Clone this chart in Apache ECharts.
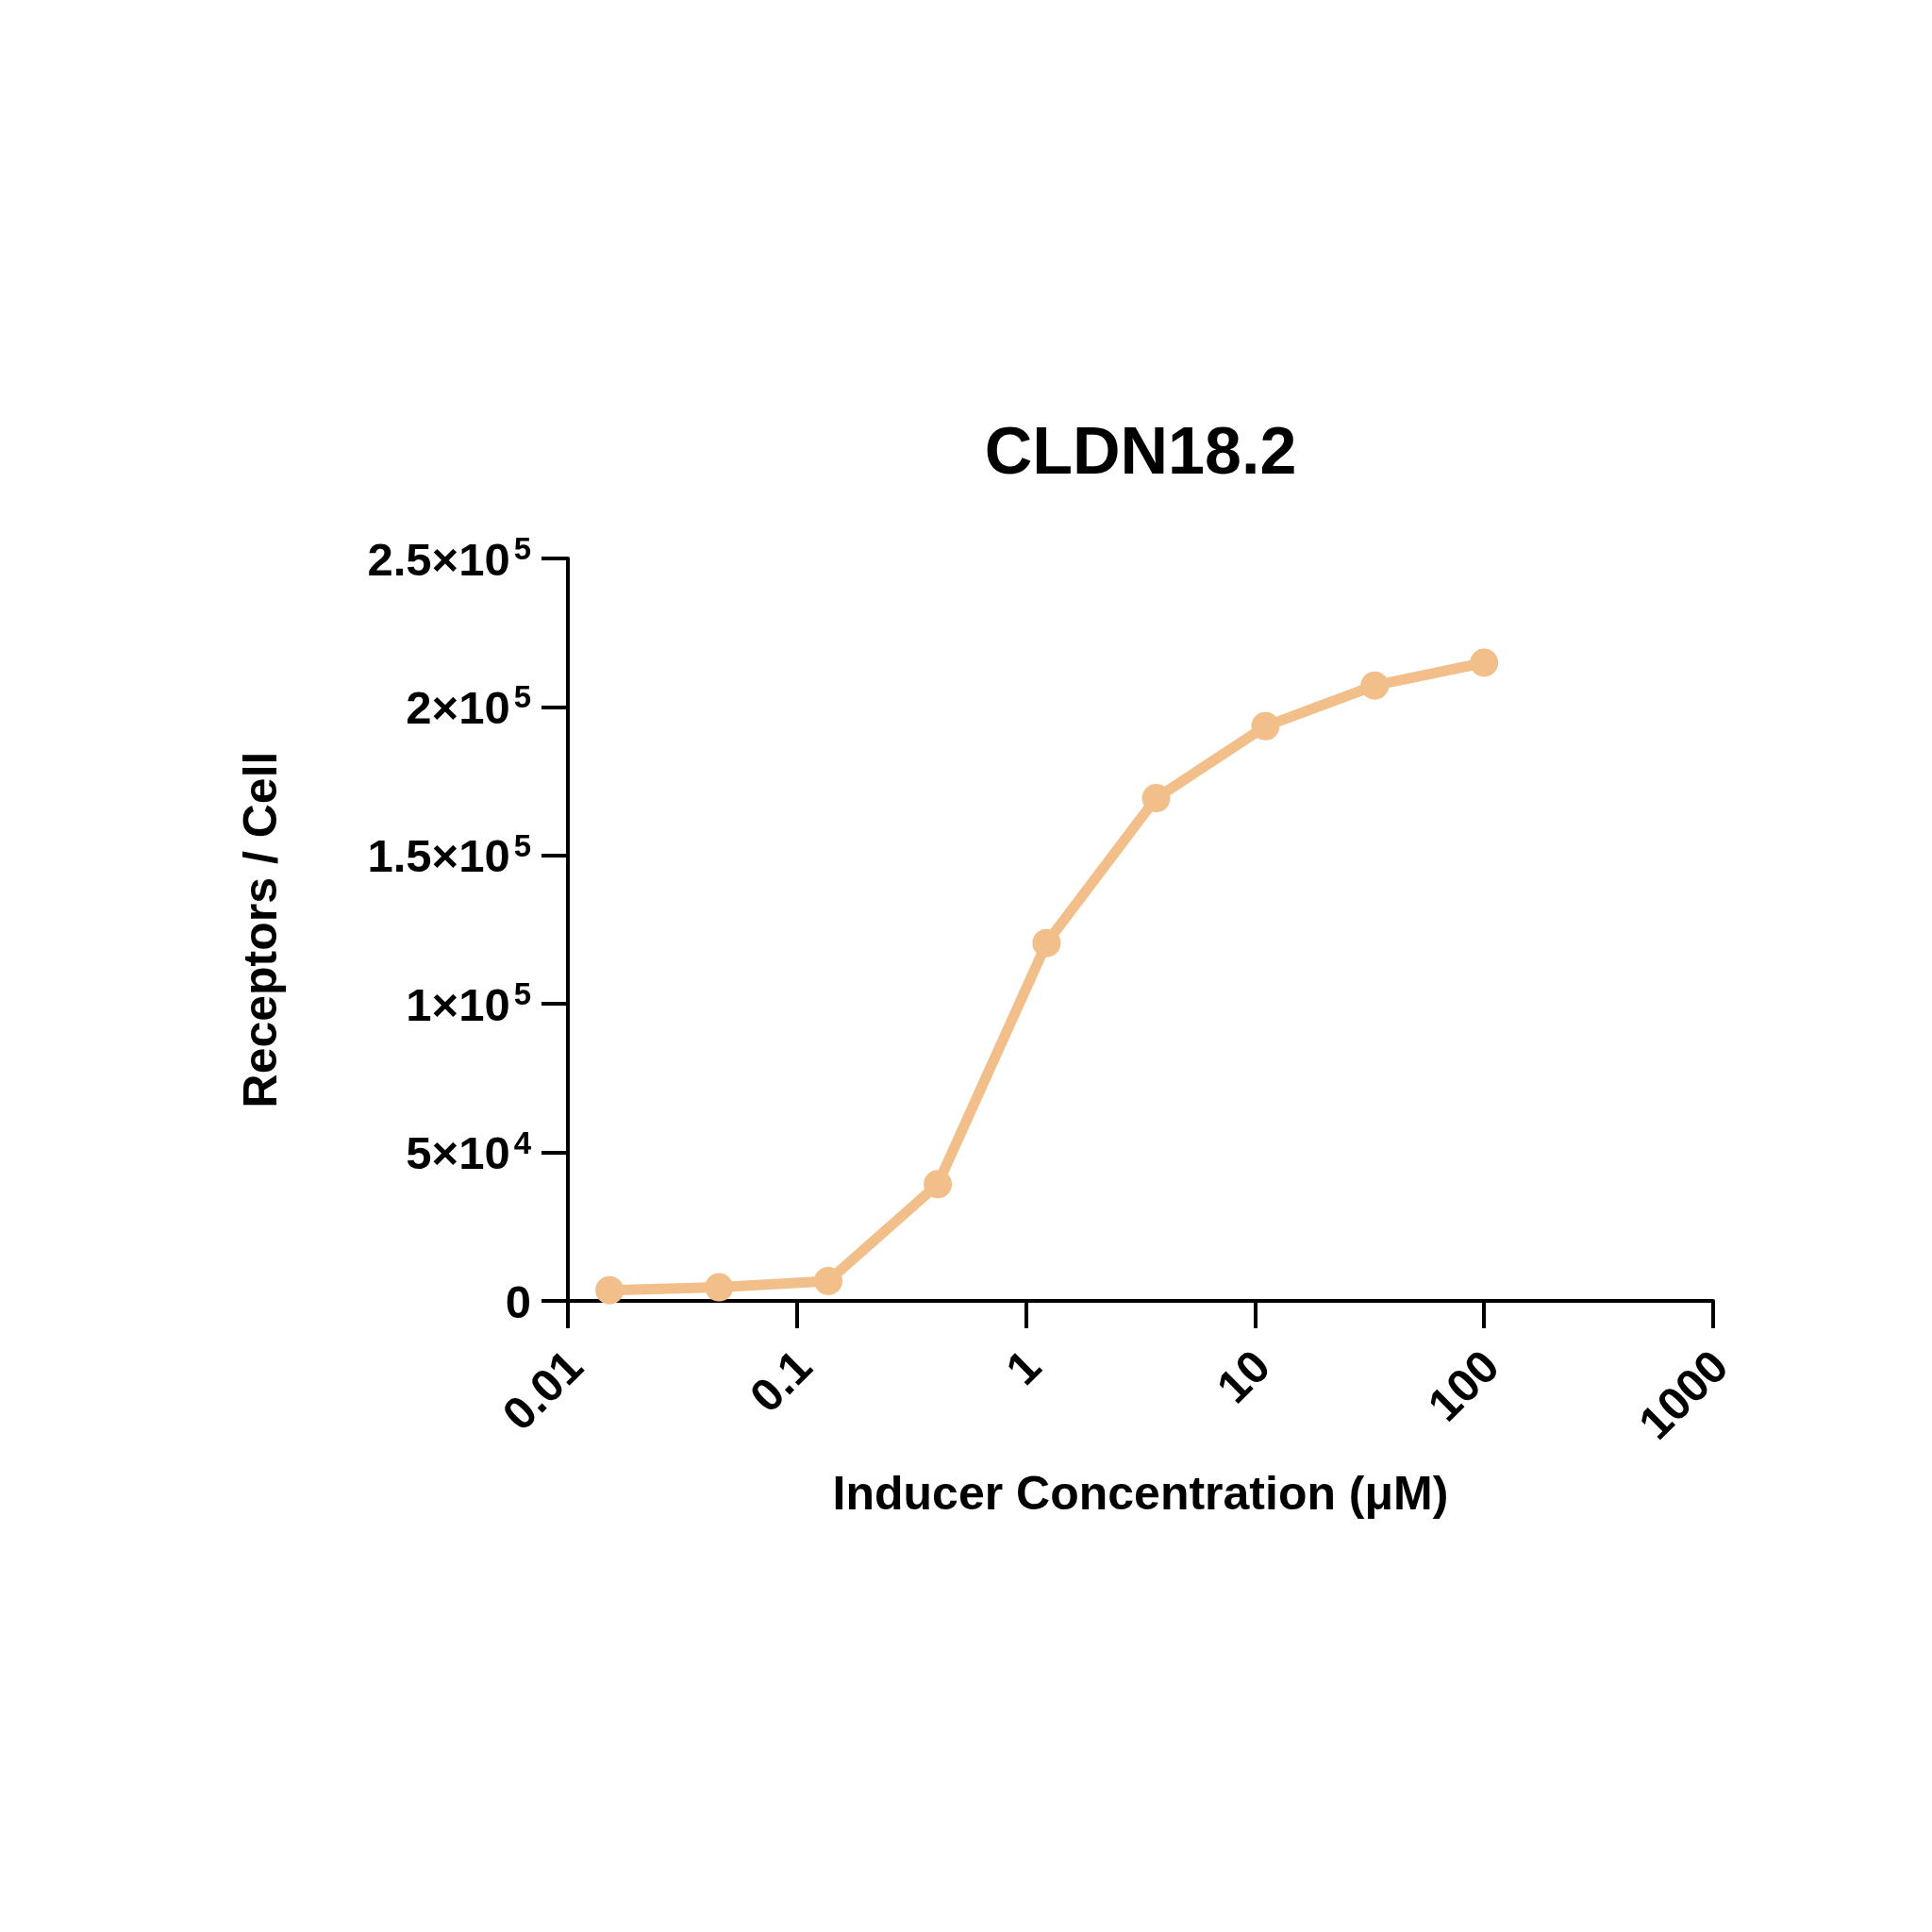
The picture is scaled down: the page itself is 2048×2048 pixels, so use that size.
<!DOCTYPE html>
<html>
<head>
<meta charset="utf-8">
<script src="https://cdn.jsdelivr.net/npm/echarts@6/dist/echarts.min.js"></script>
<style>
html,body{margin:0;padding:0;background:#fff;}
#chart{width:2048px;height:2048px;}
</style>
</head>
<body>
<div id="chart"></div>
<script>
// ---- data ----
var chartTitle = 'CLDN18.2';
var xAxisName = 'Inducer Concentration (μM)';
var yAxisName = 'Receptors / Cell';
var concentrations = [0.0152, 0.0457, 0.137, 0.412, 1.23, 3.70, 11.1, 33.3, 100];
var receptors = [3600, 4600, 6700, 39300, 120500, 169300, 193500, 207200, 214900];
var xTickValues = [0.01, 0.1, 1, 10, 100, 1000];
var xTickLabels = ['0.01', '0.1', '1', '10', '100', '1000'];
var yTickValues = [0, 50000, 100000, 150000, 200000, 250000];
var yTickLabels = ['0', '5×10^4', '1×10^5', '1.5×10^5', '2×10^5', '2.5×10^5'];

var FONT = '"Liberation Sans", Arial, Helvetica, sans-serif';
var lineColor = '#F2BE8A';

var seriesData = concentrations.map(function (c, i) { return [c, receptors[i]]; });

function yFormatter(v) {
  var idx = -1;
  for (var i = 0; i < yTickValues.length; i++) {
    if (Math.abs(yTickValues[i] - v) < 1) { idx = i; break; }
  }
  if (idx < 0) return '';
  var parts = yTickLabels[idx].split('^');
  if (parts.length === 1) return '{b|' + parts[0] + '}';
  return '{b|' + parts[0] + '}{s|' + parts[1] + '}';
}
function xFormatter(v) {
  var e = Math.round(Math.log10(v));
  for (var i = 0; i < xTickValues.length; i++) {
    if (Math.round(Math.log10(xTickValues[i])) === e) return xTickLabels[i];
  }
  return '';
}

var chart = echarts.init(document.getElementById('chart'), null, {renderer: 'canvas'});
chart.setOption({
  animation: false,
  backgroundColor: '#ffffff',
  title: {
    text: chartTitle,
    left: 1209,
    top: 448,
    padding: 0,
    textAlign: 'center',
    textStyle: {fontFamily: FONT, fontWeight: 'bold', fontSize: 70, color: '#000'}
  },
  grid: {left: 602, right: 232, top: 592, bottom: 669, containLabel: false},
  xAxis: {
    type: 'log',
    logBase: 10,
    min: 0.01,
    max: 1000,
    name: xAxisName,
    nameLocation: 'middle',
    nameGap: 182,
    nameTextStyle: {fontFamily: FONT, fontWeight: 'bold', fontSize: 50, color: '#000'},
    axisLine: {show: true, onZero: false, lineStyle: {color: '#000', width: 4}},
    axisTick: {show: true, length: 29, lineStyle: {color: '#000', width: 4}},
    minorTick: {show: false},
    splitLine: {show: false},
    axisLabel: {
      rotate: 45,
      margin: 54,
      verticalAlign: 'top',
      lineHeight: 26,
      fontFamily: FONT, fontWeight: 'bold', fontSize: 49, color: '#000',
      formatter: xFormatter
    }
  },
  yAxis: {
    type: 'value',
    min: 0,
    max: 250000,
    interval: 50000,
    name: yAxisName,
    nameLocation: 'middle',
    nameGap: 298,
    nameTextStyle: {fontFamily: FONT, fontWeight: 'bold', fontSize: 50, color: '#000'},
    axisLine: {show: true, lineStyle: {color: '#000', width: 4}},
    axisTick: {show: true, length: 28, lineStyle: {color: '#000', width: 4}},
    splitLine: {show: false},
    axisLabel: {
      margin: 39,
      color: '#000',
      formatter: yFormatter,
      rich: {
        b: {fontFamily: FONT, fontWeight: 'bold', fontSize: 49, lineHeight: 49, color: '#000', padding: [8, 0, 0, 0]},
        s: {fontFamily: FONT, fontWeight: 'bold', fontSize: 33, lineHeight: 26, verticalAlign: 'top', color: '#000', padding: [0, 0, 0, 4]}
      }
    }
  },
  series: [{
    type: 'line',
    data: seriesData,
    symbol: 'circle',
    symbolSize: 30,
    showSymbol: true,
    lineStyle: {color: lineColor, width: 11},
    itemStyle: {color: lineColor},
    z: 3
  }]
});
</script>
</body>
</html>
